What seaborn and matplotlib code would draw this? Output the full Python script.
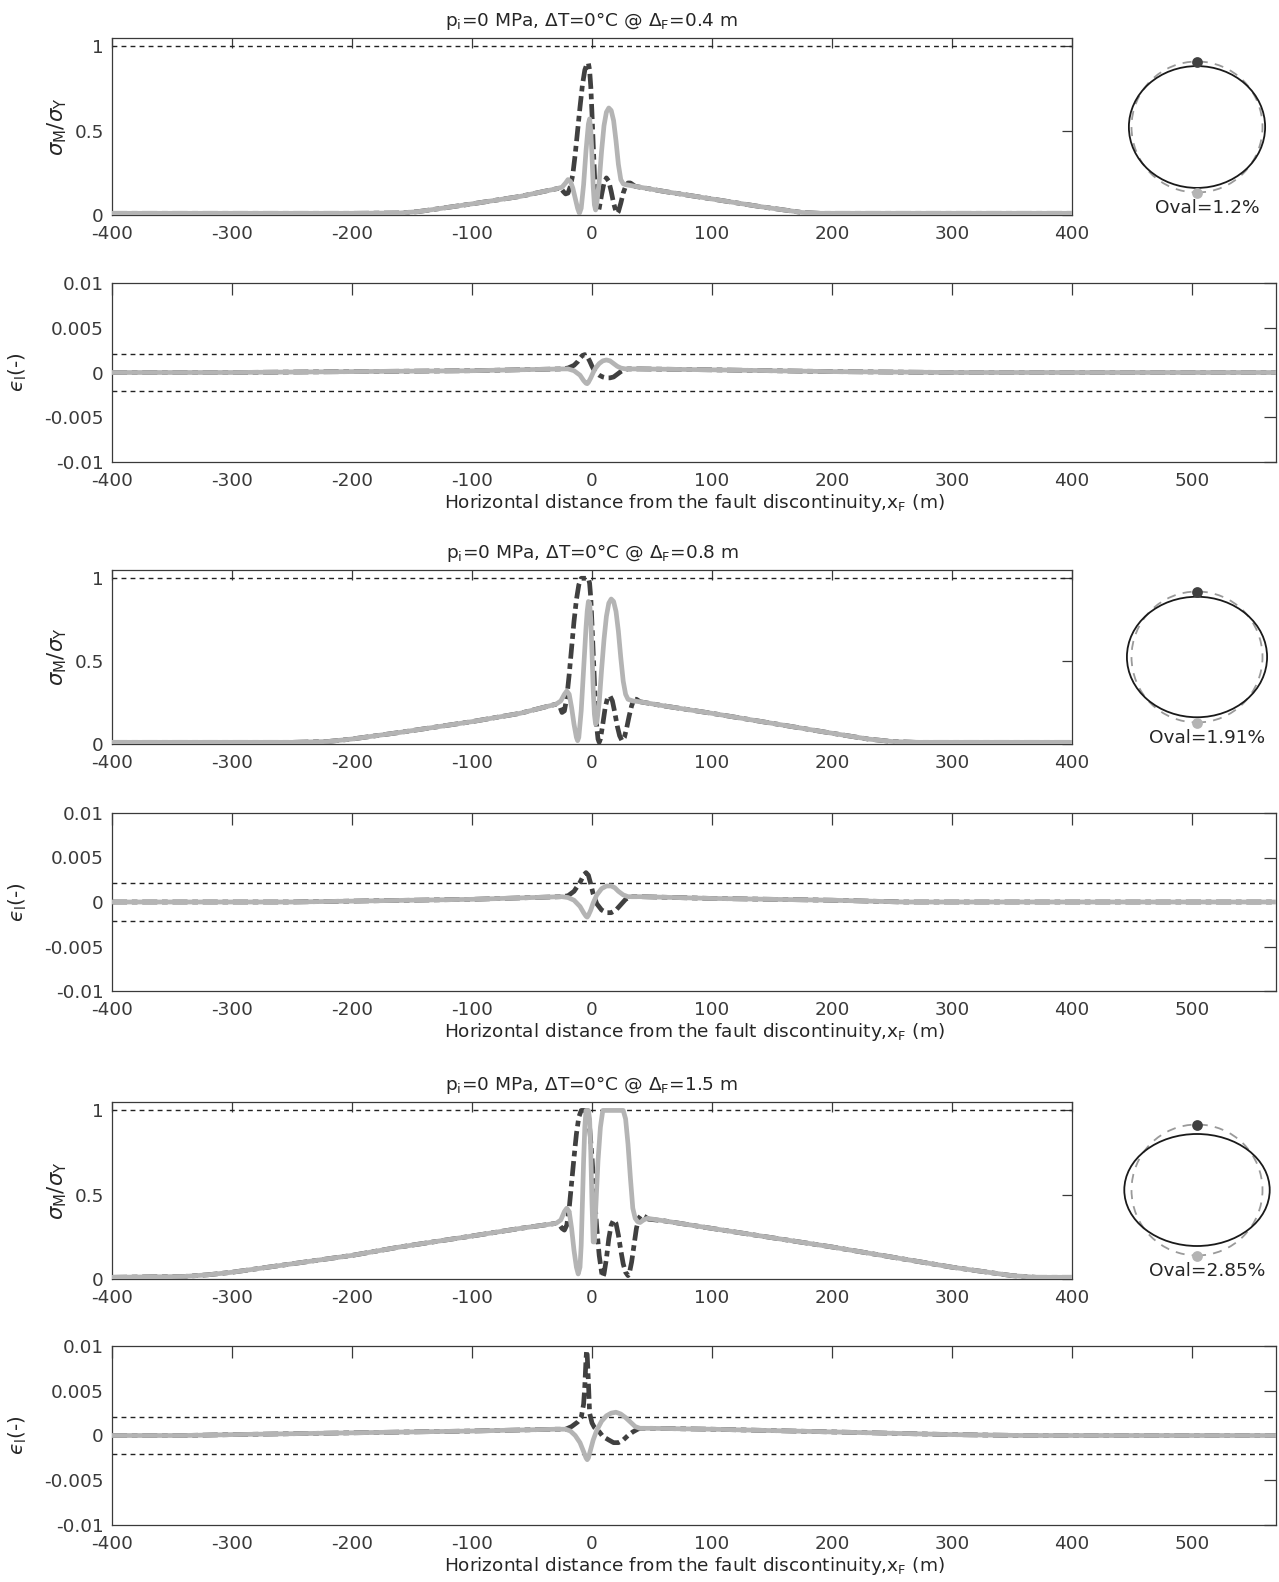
import numpy as np
import pandas as pd
import matplotlib
matplotlib.use("Agg")
import matplotlib.pyplot as plt
from matplotlib.patches import Ellipse, Circle
import seaborn as sns

# ---------------- data ----------------
titles = [r"p$_\mathregular{i}$=0 MPa, $\Delta$T=0°C @ $\Delta_\mathregular{F}$=0.4 m",
          r"p$_\mathregular{i}$=0 MPa, $\Delta$T=0°C @ $\Delta_\mathregular{F}$=0.8 m",
          r"p$_\mathregular{i}$=0 MPa, $\Delta$T=0°C @ $\Delta_\mathregular{F}$=1.5 m"]
oval_labels = ["Oval=1.2%", "Oval=1.91%", "Oval=2.85%"]
oval_major = [1.04, 1.07, 1.11]   # deformed section, relative to the undeformed radius
oval_minor = [0.93, 0.92, 0.855]

stress_limit = 1.0
strain_limit = 0.0021

stress_xticks = [-400, -300, -200, -100, 0, 100, 200, 300, 400]
strain_xticks = [-400, -300, -200, -100, 0, 100, 200, 300, 400, 500]
stress_yticks = [0, 0.5, 1]
stress_yticklabels = ["0", "0.5", "1"]
strain_yticks = [-0.01, -0.005, 0, 0.005, 0.01]
strain_yticklabels = ["-0.01", "-0.005", "0", "0.005", "0.01"]

# --- case 1 : dF = 0.4 m ---
s1_light_x = [-400, -200, -160, -145, -130, -100, -60, -30, -25, -22, -20, -18, -16, -14, -12, -10.5, -9, -7, -5, -3, -2, -1, 0, 1, 2, 3, 4, 6, 8, 10, 12, 14, 16, 18, 20, 22, 24, 26, 28, 32, 36, 60, 100, 140, 160, 175, 190, 400]
s1_light_y = [0.01, 0.01, 0.012, 0.02, 0.035, 0.066, 0.11, 0.155, 0.165, 0.19, 0.21, 0.2, 0.16, 0.1, 0.04, 0.01, 0.04, 0.18, 0.38, 0.54, 0.57, 0.5, 0.35, 0.17, 0.06, 0.03, 0.07, 0.2, 0.38, 0.53, 0.61, 0.635, 0.62, 0.56, 0.44, 0.3, 0.21, 0.185, 0.18, 0.175, 0.17, 0.14, 0.095, 0.05, 0.03, 0.015, 0.01, 0.01]
s1_dark_x = [-400, -200, -160, -145, -130, -100, -60, -30, -26, -24, -22, -20, -18, -16, -14, -12, -10, -8, -6, -4, -3, -2, -1, 0, 1, 2, 3, 4, 5, 6, 8, 10, 12, 14, 16, 18, 20, 21, 22, 24, 26, 28, 30, 32, 34, 36, 60, 100, 140, 160, 175, 190, 400]
s1_dark_y = [0.01, 0.01, 0.012, 0.02, 0.035, 0.066, 0.11, 0.155, 0.16, 0.14, 0.125, 0.13, 0.17, 0.24, 0.36, 0.5, 0.64, 0.77, 0.86, 0.9, 0.9, 0.86, 0.76, 0.6, 0.42, 0.25, 0.12, 0.05, 0.02, 0.04, 0.12, 0.19, 0.22, 0.2, 0.14, 0.07, 0.02, 0.01, 0.02, 0.07, 0.13, 0.17, 0.19, 0.19, 0.18, 0.17, 0.14, 0.095, 0.05, 0.03, 0.015, 0.01, 0.01]
e1_light_x = [-400, -300, -200, -100, -25, -20, -15, -10, -7, -5, -4, -3, -1, 1, 3, 6, 9, 12, 15, 18, 21, 24, 28, 40, 100, 200, 300, 570]
e1_light_y = [0.0, 0.0, 0.0001, 0.0002, 0.0004, 0.0004, 0.0002, -0.0003, -0.0009, -0.0012, -0.00125, -0.0011, -0.0006, 0.0, 0.0005, 0.001, 0.0013, 0.0014, 0.0013, 0.001, 0.0007, 0.0005, 0.0004, 0.0004, 0.0003, 0.0001, 0.0, 0.0]
e1_dark_x = [-400, -300, -200, -100, -25, -20, -15, -12, -10, -8, -6, -4, -2, 0, 2, 4, 6, 9, 12, 15, 18, 21, 24, 27, 30, 40, 100, 200, 300, 570]
e1_dark_y = [0.0, 0.0, 0.0001, 0.0002, 0.0004, 0.0005, 0.0008, 0.0012, 0.0016, 0.0019, 0.002, 0.0018, 0.0013, 0.0007, 0.0002, -0.0001, -0.0003, -0.0005, -0.0006, -0.0006, -0.0005, -0.0002, 0.0001, 0.0003, 0.0004, 0.0004, 0.0003, 0.0001, 0.0, 0.0]

# --- case 2 : dF = 0.8 m ---
s2_light_x = [-400, -250, -220, -200, -160, -100, -60, -30, -26, -23, -21, -19, -17, -15, -13, -12, -11, -9, -7, -5, -4, -3, -2, -1, 0, 1, 2, 3, 4, 6, 8, 10, 12, 14, 16, 18, 20, 22, 24, 26, 28, 30, 34, 40, 60, 100, 150, 200, 230, 250, 270, 400]
s2_light_y = [0.01, 0.01, 0.015, 0.03, 0.07, 0.135, 0.185, 0.24, 0.26, 0.3, 0.32, 0.3, 0.22, 0.12, 0.04, 0.02, 0.04, 0.2, 0.45, 0.7, 0.8, 0.86, 0.85, 0.75, 0.55, 0.33, 0.18, 0.12, 0.13, 0.25, 0.45, 0.63, 0.77, 0.85, 0.875, 0.86, 0.8, 0.68, 0.52, 0.38, 0.3, 0.27, 0.26, 0.255, 0.23, 0.185, 0.125, 0.065, 0.03, 0.015, 0.01, 0.01]
s2_dark_x = [-400, -250, -220, -200, -160, -100, -60, -30, -27, -25, -23, -21, -19, -17, -15, -13, -11, -9, -7, -5, -3, -2, -1, 0, 1, 2, 3, 4, 5, 6, 7, 9, 11, 13, 15, 17, 19, 21, 23, 25, 27, 29, 31, 33, 35, 37, 40, 60, 100, 150, 200, 230, 250, 270, 400]
s2_dark_y = [0.01, 0.01, 0.015, 0.03, 0.07, 0.135, 0.185, 0.24, 0.23, 0.19, 0.2, 0.28, 0.42, 0.58, 0.74, 0.87, 0.96, 1.0, 1.0, 1.0, 1.0, 0.97, 0.88, 0.72, 0.55, 0.38, 0.22, 0.1, 0.03, 0.01, 0.03, 0.12, 0.22, 0.28, 0.29, 0.26, 0.19, 0.11, 0.05, 0.02, 0.04, 0.1, 0.17, 0.23, 0.27, 0.27, 0.255, 0.23, 0.185, 0.125, 0.065, 0.03, 0.015, 0.01, 0.01]
e2_light_x = [-400, -250, -200, -100, -25, -20, -15, -10, -7, -5, -4, -3, -1, 1, 4, 8, 12, 16, 19, 22, 26, 30, 40, 100, 200, 260, 570]
e2_light_y = [0.0, 0.0, 0.0001, 0.0003, 0.0006, 0.0005, 0.0002, -0.0005, -0.0012, -0.0016, -0.0017, -0.0015, -0.0009, -0.0001, 0.0008, 0.0015, 0.0018, 0.0018, 0.0016, 0.0012, 0.0008, 0.0006, 0.0006, 0.0004, 0.0002, 0.0, 0.0]
e2_dark_x = [-400, -250, -200, -100, -25, -20, -15, -10, -7, -5, -3, -1, 1, 4, 8, 12, 16, 20, 24, 28, 32, 40, 100, 200, 260, 570]
e2_dark_y = [0.0, 0.0, 0.0001, 0.0003, 0.0006, 0.0007, 0.0012, 0.0022, 0.003, 0.0033, 0.003, 0.002, 0.0009, -0.0002, -0.0009, -0.0012, -0.0012, -0.0009, -0.0003, 0.0003, 0.0006, 0.0006, 0.0004, 0.0002, 0.0, 0.0]

# --- case 3 : dF = 1.5 m ---
s3_light_x = [-400, -340, -320, -300, -250, -200, -160, -100, -60, -30, -26, -23, -21, -19, -17, -15, -13, -11.5, -10, -9, -8, -7, -6, -5, -3, -2, -1, 0, 1, 2, 3, 5, 7, 9, 12, 26, 28, 30, 32, 34, 36, 38, 40, 43, 46, 60, 100, 150, 200, 250, 300, 330, 350, 370, 400]
s3_light_y = [0.01, 0.015, 0.025, 0.04, 0.09, 0.14, 0.19, 0.255, 0.3, 0.33, 0.35, 0.4, 0.42, 0.4, 0.3, 0.17, 0.07, 0.03, 0.07, 0.2, 0.45, 0.7, 0.9, 1.0, 1.0, 0.95, 0.75, 0.45, 0.22, 0.22, 0.4, 0.7, 0.9, 1.0, 1.0, 1.0, 0.95, 0.8, 0.6, 0.42, 0.36, 0.34, 0.335, 0.35, 0.36, 0.345, 0.3, 0.245, 0.19, 0.13, 0.07, 0.04, 0.02, 0.01, 0.01]
s3_dark_x = [-400, -340, -320, -300, -250, -200, -160, -100, -60, -30, -27, -25, -23, -21, -19, -17, -15, -13, -11, -9, -4, -3, -2, 0, 2, 4, 6, 8, 9, 10, 12, 14, 16, 18, 20, 22, 24, 26, 28, 30, 31, 33, 35, 37, 39, 41, 44, 47, 60, 100, 150, 200, 250, 300, 330, 350, 370, 400]
s3_dark_y = [0.01, 0.015, 0.025, 0.04, 0.09, 0.14, 0.19, 0.255, 0.3, 0.33, 0.32, 0.3, 0.29, 0.32, 0.42, 0.57, 0.72, 0.86, 0.96, 1.0, 1.0, 0.97, 0.9, 0.72, 0.5, 0.3, 0.14, 0.04, 0.01, 0.03, 0.12, 0.24, 0.32, 0.35, 0.33, 0.26, 0.17, 0.09, 0.04, 0.02, 0.03, 0.1, 0.2, 0.3, 0.36, 0.38, 0.37, 0.355, 0.345, 0.3, 0.245, 0.19, 0.13, 0.07, 0.04, 0.02, 0.01, 0.01]
e3_light_x = [-400, -340, -300, -200, -100, -30, -22, -18, -14, -10, -7, -5, -4, -3, -1, 1, 4, 8, 12, 16, 20, 24, 28, 32, 36, 40, 50, 100, 200, 300, 360, 570]
e3_light_y = [0.0, 0.0, 0.0001, 0.0003, 0.0005, 0.0007, 0.0007, 0.0005, 0.0, -0.0008, -0.0018, -0.0025, -0.0027, -0.0025, -0.0015, -0.0005, 0.0006, 0.0016, 0.0022, 0.0025, 0.0026, 0.0024, 0.002, 0.0015, 0.001, 0.0008, 0.0008, 0.0007, 0.0004, 0.0001, 0.0, 0.0]
e3_dark_x = [-400, -340, -300, -200, -100, -30, -22, -17, -12, -9, -7, -6, -5, -4.5, -4, -3, -2, 0, 2, 5, 9, 14, 18, 22, 26, 30, 34, 38, 40, 50, 100, 200, 300, 360, 570]
e3_dark_y = [0.0, 0.0, 0.0001, 0.0003, 0.0005, 0.0007, 0.0007, 0.001, 0.0015, 0.002, 0.0035, 0.0055, 0.0085, 0.0095, 0.009, 0.006, 0.0025, 0.0014, 0.0009, 0.0006, -0.0001, -0.0005, -0.0008, -0.0008, -0.0005, 0.0, 0.0004, 0.0007, 0.0008, 0.0008, 0.0007, 0.0004, 0.0001, 0.0, 0.0]

cases = [
    (s1_light_x, s1_light_y, s1_dark_x, s1_dark_y, e1_light_x, e1_light_y, e1_dark_x, e1_dark_y),
    (s2_light_x, s2_light_y, s2_dark_x, s2_dark_y, e2_light_x, e2_light_y, e2_dark_x, e2_dark_y),
    (s3_light_x, s3_light_y, s3_dark_x, s3_dark_y, e3_light_x, e3_light_y, e3_dark_x, e3_dark_y),
]

# ---------------- style ----------------
sns.set_theme(style="white")
plt.rcParams["font.family"] = ["DejaVu Sans"]
plt.rcParams["mathtext.fontset"] = "dejavusans"
plt.rcParams["axes.unicode_minus"] = False
plt.rcParams["axes.edgecolor"] = "#3a3a3a"
plt.rcParams["axes.linewidth"] = 0.9
plt.rcParams["xtick.color"] = "#3a3a3a"
plt.rcParams["ytick.color"] = "#3a3a3a"
plt.rcParams["text.color"] = "#262626"
plt.rcParams["axes.labelcolor"] = "#262626"

DARK = "#404040"
LIGHT = "#b4b4b4"
FS = 13.3

W, H = 1279, 1582
fig = plt.figure(figsize=(W / 100, H / 100), dpi=100)

def frac_axes(left, top, right, bottom):
    return fig.add_axes([left / W, 1 - bottom / H, (right - left) / W, (bottom - top) / H])

stress_boxes = [(112, 38, 1072, 215), (112, 570, 1072, 744), (112, 1102, 1072, 1279)]
strain_boxes = [(112, 283, 1276, 462), (112, 813, 1276, 991), (112, 1346, 1276, 1525)]
oval_centers = [(1197, 127), (1197, 657), (1197, 1190)]


def style_ax(ax, ticklen):
    ax.tick_params(axis="both", which="both", direction="in", top=True, right=True,
                   length=ticklen, width=0.9, labelsize=FS)
    ax.tick_params(axis="x", pad=7.5)
    ax.tick_params(axis="y", pad=6)
    for sp in ax.spines.values():
        sp.set_visible(True)
        sp.set_color("#3a3a3a")


for k, (slx, sly, sdx, sdy, elx, ely, edx, edy) in enumerate(cases):
    # stress panel
    ax = frac_axes(*stress_boxes[k])
    ax.axhline(stress_limit, color="#222222", lw=1.0, ls=(0, (3.5, 3)), zorder=1)
    sns.lineplot(x=sdx, y=sdy, ax=ax, color=DARK, lw=3.4, estimator=None, sort=False,
                 linestyle=(0, (3.2, 1.0, 1.2, 1.0)), zorder=3)
    sns.lineplot(x=slx, y=sly, ax=ax, color=LIGHT, lw=3.4, estimator=None, sort=False, zorder=4)
    ax.set_xlim(-400, 400)
    ax.set_ylim(0, 1.05)
    ax.set_xticks(stress_xticks)
    ax.set_xticklabels([str(t) for t in stress_xticks])
    ax.set_yticks(stress_yticks)
    ax.set_yticklabels(stress_yticklabels)
    ax.set_xlabel("")
    ax.set_ylabel(r"$\sigma_\mathregular{M}/\sigma_\mathregular{Y}$", fontsize=FS + 2, labelpad=4)
    ax.set_title(titles[k], fontsize=FS, pad=9)
    style_ax(ax, 7)

    # strain panel
    ax2 = frac_axes(*strain_boxes[k])
    ax2.axhline(strain_limit, color="#222222", lw=1.0, ls=(0, (3.5, 3)), zorder=1)
    ax2.axhline(-strain_limit, color="#222222", lw=1.0, ls=(0, (3.5, 3)), zorder=1)
    sns.lineplot(x=edx, y=edy, ax=ax2, color=DARK, lw=3.4, estimator=None, sort=False,
                 linestyle=(0, (3.2, 1.0, 1.2, 1.0)), zorder=3)
    sns.lineplot(x=elx, y=ely, ax=ax2, color=LIGHT, lw=3.4, estimator=None, sort=False, zorder=4)
    ax2.set_xlim(-400, 570)
    ax2.set_ylim(-0.01, 0.01)
    ax2.set_xticks(strain_xticks)
    ax2.set_xticklabels([str(t) for t in strain_xticks])
    ax2.set_yticks(strain_yticks)
    ax2.set_yticklabels(strain_yticklabels)
    ax2.set_ylabel("$\u03f5_\\mathregular{l}$(-)", fontsize=FS + 1, labelpad=11)
    ax2.set_xlabel(r"Horizontal distance from the fault discontinuity,x$_\mathregular{F}$ (m)",
                   fontsize=FS, labelpad=1)
    style_ax(ax2, 8.5)

    # ovalisation sketch
    cx, cy = oval_centers[k]
    half = 100
    axo = frac_axes(cx - half, cy - half, cx + half, cy + half)
    lim = half / 65.5
    axo.set_xlim(-lim, lim)
    axo.set_ylim(-lim, lim)
    axo.set_aspect("equal")
    axo.axis("off")
    axo.add_patch(Circle((0, 0), 1.0, fill=False, ec="#9a9a9a", lw=1.3, ls=(0, (5, 4))))
    axo.add_patch(Ellipse((0, 0), 2 * oval_major[k], 2 * oval_minor[k], fill=False,
                          ec="#1a1a1a", lw=1.3))
    axo.scatter([0], [1.0], s=60, color=DARK, zorder=5, linewidths=0)
    axo.scatter([0], [-1.0], s=60, color=LIGHT, zorder=5, linewidths=0)
    axo.text(0.15, -1.23, oval_labels[k], ha="center", va="center", fontsize=FS)

fig.savefig("out.png", dpi=100)
